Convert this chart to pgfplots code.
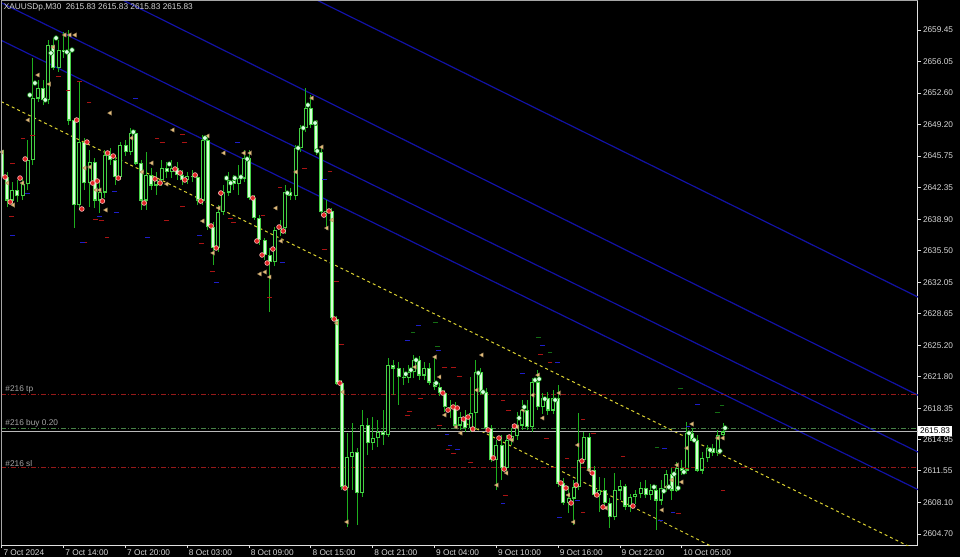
\documentclass[border=0pt]{standalone}
\usepackage{fontspec}
\setmainfont{Liberation Sans}
\usepackage{pgfplots}
\usepackage{pgfplotstable}
\pgfplotsset{compat=1.18}
\definecolor{wick}{RGB}{30,175,30}
\definecolor{bodyedge}{RGB}{70,210,70}
\definecolor{bearfill}{RGB}{215,255,215}
\definecolor{chanblue}{RGB}{18,18,165}
\definecolor{yel}{RGB}{220,210,50}
\definecolor{tpred}{RGB}{150,25,25}
\definecolor{entgreen}{RGB}{70,130,70}
\definecolor{bidgray}{RGB}{185,185,185}
\definecolor{txtgray}{RGB}{215,215,215}
\definecolor{lblgray}{RGB}{165,165,165}
\definecolor{reddot}{RGB}{225,35,35}
\definecolor{whitedot}{RGB}{215,255,225}
\definecolor{tri}{RGB}{228,190,125}
\definecolor{dashred}{RGB}{170,20,20}
\definecolor{dashblue}{RGB}{30,30,200}
\definecolor{dashgreen}{RGB}{20,110,20}
\newcommand\mtfont{\fontsize{4.15pt}{5pt}\selectfont}

\pgfplotstableread{
i o h l c
0 2646.42 2647.28 2642.94 2643.48
1 2643.48 2644.03 2640.22 2640.98
2 2640.98 2642.94 2640.33 2642.07
3 2642.07 2643.16 2640.77 2641.42
4 2641.42 2643.37 2640.98 2642.72
5 2642.72 2647.50 2642.07 2645.33
6 2645.33 2656.41 2644.79 2652.06
7 2652.06 2654.02 2651.63 2653.15
8 2653.15 2654.02 2651.30 2651.85
9 2651.85 2658.36 2651.41 2657.82
10 2657.82 2658.58 2655.11 2655.32
11 2655.32 2658.36 2654.89 2657.28
12 2657.28 2659.23 2656.41 2657.06
13 2657.06 2659.45 2649.13 2649.67
14 2649.67 2649.89 2637.94 2640.44
15 2640.44 2653.80 2639.90 2647.28
16 2647.28 2647.72 2642.07 2642.83
17 2642.83 2646.42 2640.22 2645.11
18 2645.11 2645.55 2640.11 2640.98
19 2640.98 2643.16 2639.57 2641.85
20 2641.85 2646.42 2641.20 2645.87
21 2645.87 2646.63 2644.79 2645.33
22 2645.33 2645.87 2642.61 2643.48
23 2643.48 2647.28 2643.16 2646.96
24 2646.96 2647.50 2645.76 2646.20
25 2646.20 2648.81 2645.87 2648.26
26 2648.26 2648.59 2644.79 2645.00
27 2645.00 2645.33 2639.90 2640.98
28 2640.98 2646.20 2639.90 2643.70
29 2643.70 2644.46 2642.07 2642.61
30 2642.61 2644.03 2641.53 2643.16
31 2643.16 2645.33 2642.50 2644.46
32 2644.46 2645.11 2643.37 2644.03
33 2644.03 2645.33 2643.37 2644.46
34 2644.46 2645.11 2643.16 2643.70
35 2643.70 2644.24 2642.61 2643.16
36 2643.16 2644.03 2642.72 2643.59
37 2643.59 2644.24 2642.94 2643.48
38 2643.48 2643.70 2640.44 2640.98
39 2640.98 2648.04 2640.44 2647.50
40 2647.50 2647.94 2637.73 2638.05
41 2638.05 2638.59 2633.92 2635.77
42 2635.77 2640.44 2635.34 2639.68
43 2639.68 2642.61 2639.35 2641.85
44 2641.85 2644.03 2641.42 2643.16
45 2643.16 2643.70 2642.07 2642.72
46 2642.72 2644.79 2641.53 2643.37
47 2643.37 2646.42 2642.94 2645.55
48 2645.55 2646.42 2640.98 2641.20
49 2641.20 2641.53 2638.81 2639.03
50 2639.03 2639.35 2636.10 2636.64
51 2636.64 2636.86 2634.47 2635.01
52 2635.01 2635.77 2628.82 2634.25
53 2634.25 2638.05 2633.81 2637.73
54 2637.73 2638.81 2637.07 2637.94
55 2637.94 2642.61 2637.29 2641.85
56 2641.85 2642.29 2640.98 2641.42
57 2641.42 2646.96 2640.98 2646.63
58 2646.63 2649.13 2646.20 2648.81
59 2648.81 2653.15 2648.37 2650.98
60 2650.98 2652.39 2648.81 2649.13
61 2649.13 2649.67 2645.87 2646.20
62 2646.20 2646.63 2639.35 2639.68
63 2639.68 2640.98 2637.73 2639.79
64 2639.79 2640.11 2627.95 2628.17
65 2628.06 2628.38 2620.89 2621.10
66 2621.10 2621.43 2609.48 2609.81
67 2609.70 2615.67 2605.46 2613.07
68 2613.07 2616.76 2609.48 2613.61
69 2613.61 2614.04 2605.68 2609.16
70 2609.16 2618.17 2608.72 2616.54
71 2616.54 2617.30 2613.28 2614.59
72 2614.59 2617.41 2613.83 2615.13
73 2615.13 2617.08 2614.15 2615.78
74 2615.78 2618.17 2614.37 2615.46
75 2615.46 2623.82 2615.24 2623.06
76 2623.06 2623.60 2619.80 2622.73
77 2622.73 2623.39 2618.72 2621.76
78 2621.76 2622.73 2620.89 2621.65
79 2621.65 2623.06 2621.10 2622.30
80 2622.30 2624.15 2621.65 2623.60
81 2623.60 2624.04 2621.43 2621.97
82 2621.97 2623.39 2621.43 2622.73
83 2622.73 2623.28 2620.89 2621.21
84 2621.21 2623.93 2620.34 2620.67
85 2620.67 2621.10 2619.69 2620.02
86 2620.02 2620.34 2617.95 2618.50
87 2618.50 2619.26 2617.30 2618.39
88 2618.39 2619.04 2616.22 2616.54
89 2616.54 2617.95 2616.00 2617.41
90 2617.41 2618.17 2615.78 2616.22
91 2616.22 2621.76 2615.78 2617.85
92 2617.85 2623.60 2616.00 2622.30
93 2622.30 2622.73 2619.80 2620.13
94 2620.13 2620.56 2615.78 2616.22
95 2616.22 2616.54 2612.52 2612.74
96 2612.74 2614.91 2609.48 2614.37
97 2614.37 2615.46 2610.57 2611.87
98 2611.87 2615.46 2611.44 2614.91
99 2614.91 2616.22 2614.37 2615.35
100 2615.35 2617.95 2614.91 2616.54
101 2616.54 2619.26 2616.00 2618.17
102 2618.17 2619.26 2616.00 2616.33
103 2616.33 2621.65 2615.78 2621.21
104 2621.21 2622.52 2618.17 2618.50
105 2618.50 2620.02 2617.74 2619.48
106 2619.48 2620.13 2617.63 2618.17
107 2618.17 2620.34 2617.74 2619.48
108 2619.48 2620.89 2609.81 2610.24
109 2610.24 2610.78 2607.85 2608.07
110 2608.07 2609.92 2606.98 2608.61
111 2608.61 2610.57 2605.68 2609.81
112 2609.81 2617.85 2609.48 2612.74
113 2612.74 2615.78 2612.31 2615.24
114 2615.24 2615.67 2611.44 2611.65
115 2611.65 2612.09 2608.72 2608.94
116 2608.94 2610.89 2607.09 2609.48
117 2609.48 2610.78 2607.85 2608.07
118 2608.07 2608.61 2605.35 2606.55
119 2606.55 2611.33 2606.22 2609.48
120 2609.48 2610.57 2608.39 2609.92
121 2609.92 2610.13 2607.31 2607.74
122 2607.74 2609.05 2607.09 2608.72
123 2608.72 2609.48 2607.96 2609.05
124 2609.05 2610.35 2608.61 2609.70
125 2609.70 2610.57 2608.61 2608.94
126 2608.94 2610.13 2608.39 2609.48
127 2609.48 2610.02 2605.14 2608.39
128 2608.39 2610.57 2607.85 2609.70
129 2609.70 2611.65 2609.26 2611.22
130 2611.22 2611.87 2608.39 2609.48
131 2609.48 2612.52 2609.26 2611.87
132 2611.87 2612.74 2611.11 2611.65
133 2611.65 2616.87 2611.22 2615.67
134 2615.67 2616.22 2614.70 2614.91
135 2614.91 2615.46 2611.44 2611.65
136 2611.65 2613.61 2611.22 2612.96
137 2612.96 2614.37 2612.52 2614.04
138 2614.04 2614.48 2613.17 2613.50
139 2613.50 2616.00 2613.17 2615.46
140 2615.46 2616.76 2614.91 2615.83
}\candles

\begin{document}
\begin{tikzpicture}
\fill[black] (0,0) rectangle (480pt,-278.5pt);
\begin{axis}[
  at={(0.5pt,-272.5pt)}, anchor=south west,
  scale only axis, width=458.5pt, height=272.5pt,
  xmin=-0.19, xmax=177.86, ymin=2603.51, ymax=2662.71,
  axis x line*=bottom, axis y line*=right,
  axis line style={draw=white!88!black, line width=0.5pt, -},
  tick style={draw=white!88!black, line width=0.5pt},
  major tick length=1.5pt, tick align=outside,
  xtick={0,12,24,36,48,60,72,84,96,108,120,132},
  xticklabels={7 Oct 2024,7 Oct 14:00,7 Oct 20:00,8 Oct 03:00,8 Oct 09:00,8 Oct 15:00,8 Oct 21:00,9 Oct 04:00,9 Oct 10:00,9 Oct 16:00,9 Oct 22:00,10 Oct 05:00},
  ytick={2659.45,2656.05,2652.60,2649.20,2645.75,2642.35,2638.90,2635.50,2632.05,2628.65,2625.20,2621.80,2618.35,2614.95,2611.55,2608.10,2604.70},
  yticklabels={2659.45,2656.05,2652.60,2649.20,2645.75,2642.35,2638.90,2635.50,2632.05,2628.65,2625.20,2621.80,2618.35,2614.95,2611.55,2608.10,2604.70},
  xticklabel style={anchor=north west, inner sep=0pt, font=\mtfont, text=txtgray, xshift=0.6pt, yshift=-0.6pt},
  yticklabel style={anchor=west, inner sep=0pt, font=\mtfont, text=txtgray, xshift=0.8pt},
  clip=true,
]
% channel lines
\addplot[chanblue, line width=0.6pt] coordinates {(-0.19,2679.65) (177.86,2630.44)};
\addplot[chanblue, line width=0.6pt] coordinates {(-0.19,2669.28) (177.86,2619.78)};
\addplot[chanblue, line width=0.6pt] coordinates {(-0.19,2662.42) (177.86,2613.61)};
\addplot[chanblue, line width=0.6pt] coordinates {(-0.19,2658.34) (177.86,2609.53)};
\addplot[yel, line width=0.5pt, dash pattern=on 1.5pt off 1.5pt] coordinates {(-0.19,2651.68) (177.86,2602.88)};
\addplot[yel, line width=0.5pt, dash pattern=on 1.5pt off 1.5pt] coordinates {(90,2616.73) (177.86,2592.15)};
% order lines
\addplot[tpred, line width=0.5pt, dash pattern=on 2.5pt off 1pt on 0.5pt off 1pt] coordinates {(-0.19,2619.90) (177.86,2619.90)};
\addplot[tpred, line width=0.5pt, dash pattern=on 2.5pt off 1pt on 0.5pt off 1pt] coordinates {(-0.19,2611.90) (177.86,2611.90)};
\addplot[entgreen, line width=0.5pt, dash pattern=on 2.5pt off 1pt on 0.5pt off 1pt] coordinates {(-0.19,2616.15) (177.86,2616.15)};
\addplot[bidgray, line width=0.5pt] coordinates {(-0.19,2615.83) (177.86,2615.83)};
% pending order dashes
\addplot[only marks, mark=-, mark size=1.2pt, mark options={draw=dashred, line width=0.5pt}] coordinates {
(10.9,2654.35) (12.8,2652.93) (15.1,2653.91) (16.9,2651.63) (6.0,2648.04) (4.1,2647.72) (2.1,2645.00) (31.1,2647.18) (30.1,2647.72) (32.0,2638.81) (19.4,2638.81) (18.1,2638.92) (20.4,2636.86) (16.1,2636.42) (1.9,2639.14) (35.0,2648.15) (35.5,2647.28) (38.8,2636.31) (40.8,2633.27) (44.3,2639.03) (44.9,2638.49) (50.7,2639.25) (52.0,2630.44) (54.0,2642.29) (58.8,2644.46) (63.7,2644.13) (62.7,2635.66) (35.0,2640.33) (65.0,2632.18) (66.0,2625.34) (79.2,2618.06) (78.8,2617.63) (81.2,2619.37) (86.0,2622.84) (87.6,2622.84) (86.6,2613.83) (87.6,2613.50) (85.0,2616.54) (88.9,2621.76) (97.3,2619.26) (98.3,2618.17) (104.5,2624.15) (106.4,2623.28) (112.8,2617.09) (105.8,2615.13) (109.7,2612.96) (90.9,2612.42) (97.7,2608.94) (112.8,2607.09) (114.8,2615.67) (120.6,2613.07) (133.0,2611.87) (140.0,2609.48) (131.3,2606.98)};
\addplot[only marks, mark=-, mark size=1.2pt, mark options={draw=dashblue, line width=0.5pt}] coordinates {
(26.0,2651.96) (2.1,2637.18) (15.7,2636.42) (19.0,2639.14) (22.3,2639.68) (28.2,2636.96) (21.9,2641.96) (4.9,2641.74) (41.7,2631.97) (45.8,2647.18) (54.4,2634.25) (62.7,2643.16) (38.4,2637.18) (80.8,2627.30) (78.8,2625.67) (84.7,2624.69) (87.0,2614.37) (86.4,2615.46) (104.9,2625.23) (107.8,2623.28) (101.0,2622.19) (88.5,2613.83) (111.7,2608.39) (97.3,2608.07) (108.3,2606.55) (128.7,2614.04) (135.0,2618.72) (133.2,2616.33) (127.8,2606.22) (130.3,2607.09)};
\addplot[only marks, mark=-, mark size=1.2pt, mark options={draw=dashgreen, line width=0.5pt}] coordinates {
(79.8,2626.54) (84.5,2625.12) (84.1,2627.73) (104.1,2626.00) (106.4,2624.47) (131.8,2620.56) (139.8,2618.61) (139.0,2617.85) (127.2,2614.15)};
% candles: wicks
\addplot[draw=none, mark=none, forget plot, error bars/.cd, y dir=plus, y explicit, error mark=none,
  error bar style={draw=wick, line width=0.5pt, solid}]
  table[x=i, y=l, y error plus expr=\thisrow{h}-\thisrow{l}] {\candles};
% body outlines
\addplot[draw=none, mark=none, forget plot, error bars/.cd, y dir=plus, y explicit, error mark=none,
  error bar style={draw=bodyedge, line width=2pt, solid}]
  table[x=i, y expr={min(\thisrow{o},\thisrow{c})-0.05}, y error plus expr={abs(\thisrow{c}-\thisrow{o})+0.1}] {\candles};
% bear fills
\addplot[draw=none, mark=none, forget plot, error bars/.cd, y dir=plus, y explicit, error mark=none,
  error bar style={draw=bearfill, line width=1pt, solid}]
  table[x=i, y expr={min(\thisrow{o},\thisrow{c})+0.1}, y error plus expr={(\thisrow{o}>\thisrow{c})*max(abs(\thisrow{c}-\thisrow{o})-0.2,0)}] {\candles};
% bull fills
\addplot[draw=none, mark=none, forget plot, error bars/.cd, y dir=plus, y explicit, error mark=none,
  error bar style={draw=black, line width=1pt, solid}]
  table[x=i, y expr={min(\thisrow{o},\thisrow{c})+0.1}, y error plus expr={(\thisrow{c}>\thisrow{o})*max(abs(\thisrow{c}-\thisrow{o})-0.2,0)}] {\candles};
% trade markers
\addplot[only marks, mark=triangle*, mark size=1.25pt, mark options={fill=tri, draw=tri!70!black, line width=0.2pt, rotate=90}] coordinates {
(0,2646.20) (1.1,2642.83) (2.2,2640.44) (4,2642.83) (5.1,2649.67) (7,2654.56) (9.2,2653.58) (10,2657.60) (12.2,2658.91) (13.2,2658.91) (14.2,2658.91) (16.1,2644.46) (17.1,2644.57) (18.3,2642.07) (19,2642.07) (20.2,2639.90) (21,2650.43) (25.2,2647.72) (27.2,2644.03) (29.1,2645.00) (32,2642.72) (33.2,2648.59) (39,2638.70) (40,2647.94) (41,2635.23) (42.1,2640.11) (43.1,2646.09) (47,2646.09) (48.2,2646.09) (50.1,2632.95) (51.1,2633.16) (52,2632.62) (53.2,2640.11) (54.2,2636.53) (57.1,2644.03) (60.2,2652.06) (61,2649.35) (62.1,2646.74) (63.1,2637.94) (64.1,2638.81) (65,2627.62) (66.2,2620.13) (67,2606.01) (80.2,2622.84) (84.1,2623.93) (85,2621.76) (86,2617.63) (88.2,2616.33) (89.1,2615.67) (92.2,2620.34) (93.2,2624.15) (96.1,2610.02) (98,2611.33) (99,2614.91) (100,2616.33) (101.2,2618.17) (103.1,2619.80) (104.1,2621.97) (105,2617.30) (108.2,2620.02) (110,2608.94) (111,2606.01) (111.8,2614.37) (114,2611.65) (117.3,2607.53) (128.2,2607.31) (129.1,2609.81) (130.1,2610.57) (131.1,2612.20) (132,2610.35) (133,2614.04) (134,2616.65) (139,2615.13) (140,2615.13)};
\addplot[only marks, mark=*, mark size=1.2pt, mark options={fill=reddot, draw=white!75!red, line width=0.3pt}] coordinates {
(0.6,2643.48) (1.6,2640.77) (3.5,2643.37) (4.5,2645.44) (14.5,2649.67) (15.5,2640.01) (16.5,2647.28) (17.6,2642.83) (18.5,2643.05) (19.5,2640.87) (20.5,2646.09) (21.6,2645.76) (22.6,2643.37) (27.6,2640.66) (29.7,2643.27) (30.7,2642.83) (33.6,2644.35) (34.6,2643.92) (35.5,2643.16) (37.5,2643.70) (38.6,2640.87) (40.6,2638.16) (41.6,2635.77) (42.5,2641.74) (48.7,2641.20) (49.5,2636.53) (50.5,2635.01) (51.5,2634.14) (52.6,2635.66) (53.8,2638.05) (54.6,2637.62) (62.5,2639.35) (63.5,2639.79) (64.5,2628.06) (65.6,2621.10) (66.6,2609.70) (85.6,2620.02) (86.6,2618.17) (87.6,2618.50) (88.4,2618.39) (89.6,2617.19) (90.5,2617.41) (91.4,2616.11) (94.4,2616.00) (95.4,2612.96) (96.5,2615.13) (97.5,2611.76) (98.5,2615.24) (99.5,2616.43) (108.5,2610.24) (109.5,2609.70) (110.5,2608.07) (111.5,2610.02) (112.6,2612.63) (114.6,2611.33) (115.5,2608.94) (116.7,2607.63) (122.5,2607.74)};
\addplot[only marks, mark=*, mark size=1.2pt, mark options={fill=whitedot, draw=green!45!black, line width=0.3pt}] coordinates {
(5.4,2652.39) (6.4,2653.69) (8.4,2651.85) (9.5,2656.95) (10.5,2658.58) (12.6,2657.06) (13.6,2657.28) (25.5,2648.37) (32.5,2644.89) (39.4,2647.72) (43.6,2643.37) (44.4,2642.83) (45.2,2643.37) (46.4,2643.48) (47.6,2645.44) (55.4,2641.74) (57.5,2646.63) (58.5,2648.81) (59.4,2651.30) (60.8,2649.35) (61.2,2646.31) (78.4,2622.08) (79.4,2622.52) (80.4,2623.60) (84.3,2621.10) (92.5,2622.19) (93.4,2620.13) (100.4,2617.30) (101.4,2618.50) (103.5,2621.43) (104.3,2621.54) (105.4,2619.37) (107.4,2619.26) (126.6,2609.81) (128.5,2609.37) (129.5,2609.81) (130.5,2611.22) (131.3,2609.70) (132.4,2611.44) (133.4,2615.67) (134.4,2614.91) (137.5,2613.83) (139.4,2613.72) (140.4,2616.22)};
% order labels
\node[anchor=west, inner sep=0pt, font=\mtfont, text=lblgray] at (axis cs:0.6,2620.45) {\#216 tp};
\node[anchor=west, inner sep=0pt, font=\mtfont, text=lblgray] at (axis cs:0.6,2616.76) {\#216 buy 0.20};
\node[anchor=west, inner sep=0pt, font=\mtfont, text=lblgray] at (axis cs:0.6,2612.41) {\#216 sl};
\end{axis}
% frame top/left
\draw[gray!70, line width=0.5pt] (0.5pt,-272.5pt) -- (0.5pt,-0.25pt) -- (459pt,-0.25pt);
% title
\node[anchor=west, inner sep=0pt, font=\mtfont, text=txtgray] at (1.7pt,-3.6pt) {XAUUSDp,M30\hspace{2.2pt}2615.83 2615.83 2615.83 2615.83};
% current price box
\node[anchor=west, fill=white, draw=white, inner xsep=0.6pt, inner ysep=0.5pt, font=\mtfont, text=black, minimum height=4.6pt] at (459.2pt,-215.5pt) {2615.83};
\pgfresetboundingbox
\path (0,0) rectangle (480pt,-278.5pt);
\end{tikzpicture}
\end{document}
